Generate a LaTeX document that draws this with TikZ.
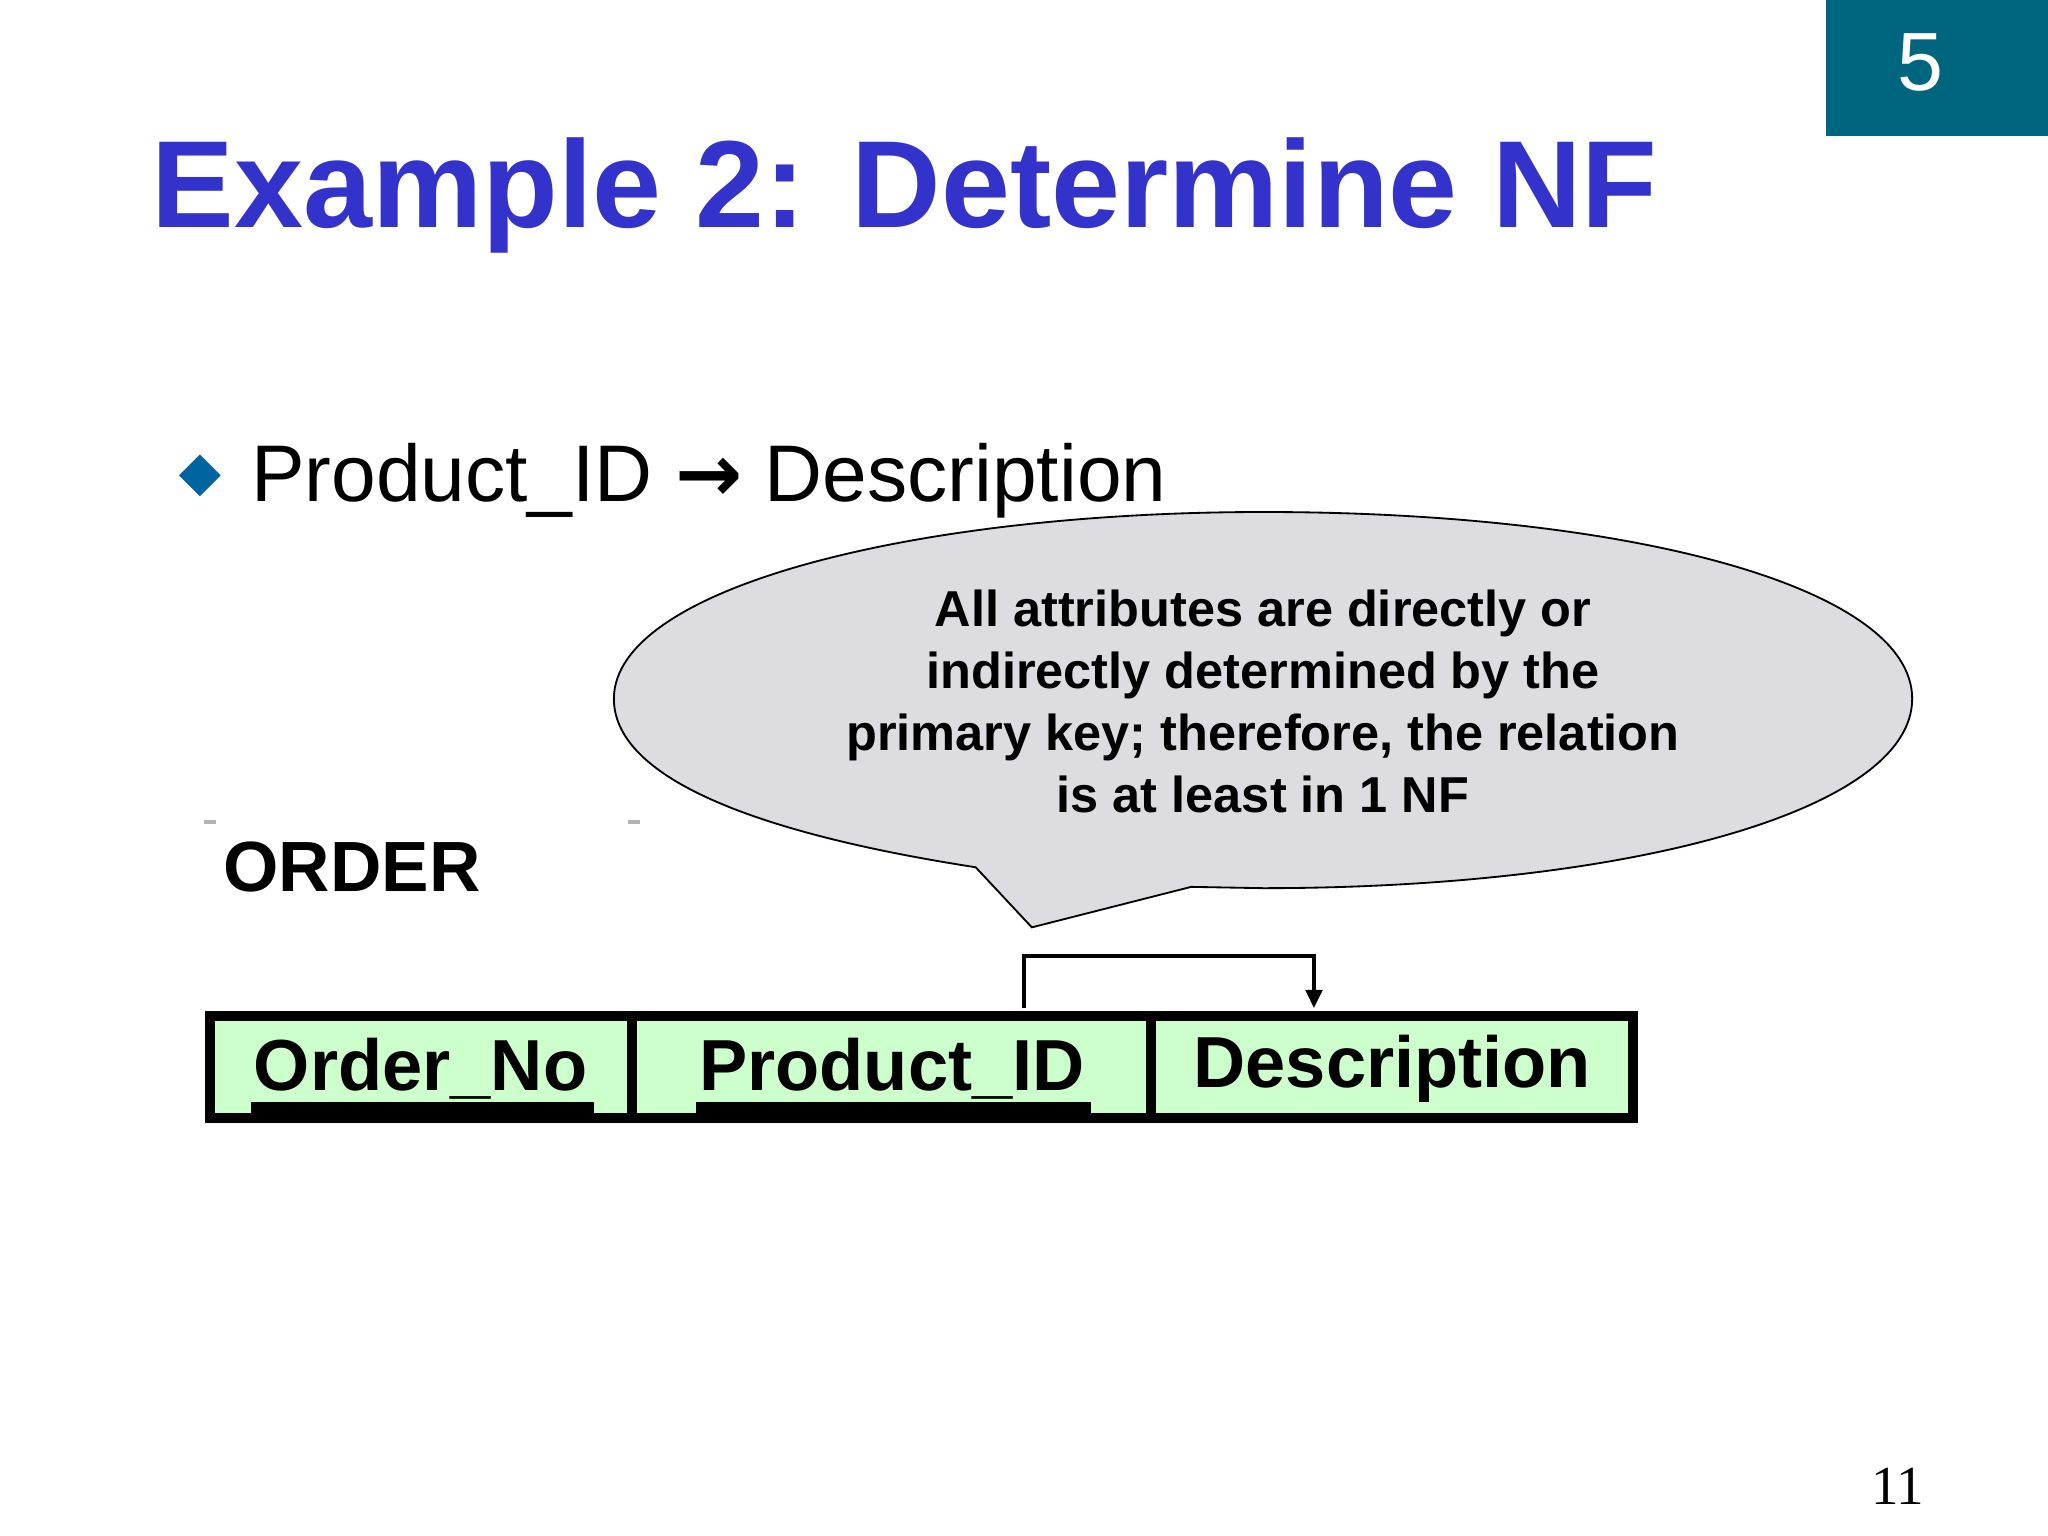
\documentclass[tikz,border=0pt]{standalone}
\usepackage{fontspec}
\setmainfont{Liberation Sans}
\newfontfamily\seriffont{Liberation Serif}
\newfontfamily\symfont{DejaVu Sans}
\usetikzlibrary{arrows.meta}
\definecolor{titleblue}{RGB}{51,51,204}
\definecolor{teal5}{RGB}{0,102,128}
\definecolor{bullet}{RGB}{0,100,160}
\definecolor{bubble}{RGB}{220,220,225}
\definecolor{cellgreen}{RGB}{204,255,204}
\tikzset{cell/.style={anchor=center,font=\fontsize{31.5}{34}\selectfont\bfseries},
 ul/.style={line width=5pt}}
\begin{document}
\begin{tikzpicture}[x=0.02cm,y=-0.02cm]
\useasboundingbox (0,0) rectangle (1568,1176);
\fill[teal5] (1398,0) rectangle (1568,104);
\node[text=white,font=\fontsize{36}{40}\selectfont] (num) at (1470,48) {5};
\node[anchor=west,text=titleblue,font=\fontsize{54}{58}\selectfont\bfseries] (title) at (110,150) {Example 2: Determine NF};
\fill[bullet] (153,348) -- (169,364) -- (153,380) -- (137,364) -- cycle;
\node[anchor=west,font=\fontsize{35}{38}\selectfont] (fd) at (186,368) {Product\_ID {\symfont\bfseries →} Description};
% bubble
\draw[fill=bubble,line width=0.8pt] (747,664) .. controls (560,635) and (470,590) .. (470,535)
  .. controls (470,450) and (700,392) .. (967,392)
  .. controls (1250,392) and (1464,450) .. (1464,535)
  .. controls (1464,620) and (1250,680) .. (967,680)
  -- (912,679) -- (790,710) -- cycle;
\node[align=center,font=\fontsize{22}{27}\selectfont\bfseries] (note) at (967,537) {All attributes are directly or\\indirectly determined by the\\primary key; therefore, the relation\\is at least in 1 NF};
\fill[gray!60] (156,628) rectangle (165,631);
\fill[gray!60] (481,628) rectangle (490,631);
\node[anchor=west,font=\fontsize{31}{34}\selectfont\bfseries] (order) at (165,664) {ORDER};
% table
\draw[line width=4.5pt,fill=cellgreen] (161,778) rectangle (1250,856);
\draw[line width=4.5pt] (484,778) -- (484,856);
\draw[line width=4.5pt] (881,778) -- (881,856);
\node[cell] (c1) at (322,818) {Order\_No};
\node[cell] (c2) at (683,818) {Product\_ID};
\node[cell] (c3) at (1066,818) {Description};
\draw[ul] (192,848) -- (455,848);
\draw[ul] (533,848) -- (835,848);
\coordinate (a1) at (784,772);
\coordinate (a2) at (1006,772);
\draw[line width=2pt,-{Triangle[length=8pt,width=7pt]}] (a1) -- (784,732) -- (1006,732) -- (a2);
\node[font=\seriffont\fontsize{24}{26}\selectfont] (pg) at (1453,1138) {11};
\end{tikzpicture}
\end{document}
